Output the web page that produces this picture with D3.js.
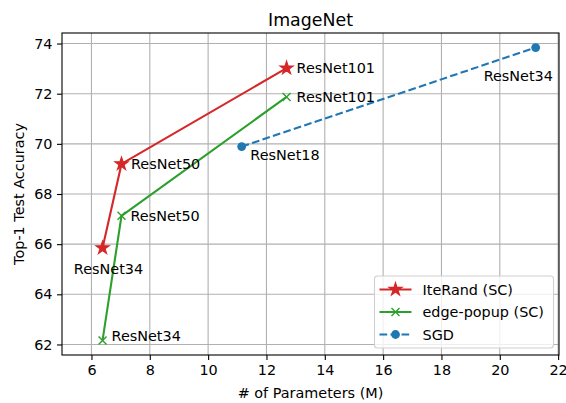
<!DOCTYPE html>
<html>
<head>
<meta charset="utf-8">
<script src="https://cdn.jsdelivr.net/npm/d3@7"></script>
<style>
  body { margin: 0; background: #fff; }
  svg { font-family: "DejaVu Sans", sans-serif; }
</style>
</head>
<body>
<div id="chart"></div>
<script>
// data
const xTicks = [6, 8, 10, 12, 14, 16, 18, 20, 22];
const yTicks = [62, 64, 66, 68, 70, 72, 74];

const iterandParams = [6.38, 7.03, 12.69];
const iterandAcc = [65.85, 69.2, 73.02];
const iterandNames = ["ResNet34", "ResNet50", "ResNet101"];

const popupParams = [6.38, 7.03, 12.69];
const popupAcc = [62.16, 67.13, 71.87];
const popupNames = ["ResNet34", "ResNet50", "ResNet101"];

const sgdParams = [11.15, 21.23];
const sgdAcc = [69.89, 73.84];
const sgdNames = ["ResNet18", "ResNet34"];

const seriesNames = ["IteRand (SC)", "edge-popup (SC)", "SGD"];

const W = 566, H = 403;
const margin = { left: 62, right: 7, top: 33, bottom: 48 };
const FS = 14.4;

const svg = d3.select("#chart").append("svg")
  .attr("width", W).attr("height", H);

const x = d3.scaleLinear().domain([4.99, 22.03]).range([margin.left, W - margin.right]);
const y = d3.scaleLinear().domain([61.58, 74.42]).range([H - margin.bottom, margin.top]);

// grid
svg.append("g").selectAll("line").data(xTicks).join("line")
  .attr("x1", d => x(d)).attr("x2", d => x(d))
  .attr("y1", y.range()[0]).attr("y2", y.range()[1])
  .attr("stroke", "#b0b0b0").attr("stroke-width", 1.1);
svg.append("g").selectAll("line").data(yTicks).join("line")
  .attr("y1", d => y(d)).attr("y2", d => y(d))
  .attr("x1", x.range()[0]).attr("x2", x.range()[1])
  .attr("stroke", "#b0b0b0").attr("stroke-width", 1.1);

// axes
const xAxis = svg.append("g")
  .attr("transform", `translate(0,${H - margin.bottom})`)
  .call(d3.axisBottom(x).tickValues(xTicks).tickSize(5).tickPadding(4.5));
const yAxis = svg.append("g")
  .attr("transform", `translate(${margin.left},0)`)
  .call(d3.axisLeft(y).tickValues(yTicks).tickSize(5).tickPadding(4.5));
[xAxis, yAxis].forEach(a => {
  a.select(".domain").remove();
  a.selectAll("text").attr("font-size", FS).attr("fill", "#000")
    .attr("font-family", "DejaVu Sans");
  a.selectAll("line").attr("stroke", "#000").attr("stroke-width", 1.1);
});

svg.append("rect")
  .attr("x", margin.left).attr("y", margin.top)
  .attr("width", W - margin.right - margin.left)
  .attr("height", H - margin.bottom - margin.top)
  .attr("fill", "none").attr("stroke", "#000").attr("stroke-width", 1.1);

// titles
svg.append("text").attr("x", (x.range()[0] + x.range()[1]) / 2).attr("y", 25.5)
  .attr("text-anchor", "middle").attr("font-size", 17.4).text("ImageNet");
svg.append("text").attr("x", (x.range()[0] + x.range()[1]) / 2).attr("y", 398)
  .attr("text-anchor", "middle").attr("font-size", FS).text("# of Parameters (M)");
svg.append("text")
  .attr("transform", `translate(24,${(y.range()[0] + y.range()[1]) / 2}) rotate(-90)`)
  .attr("text-anchor", "middle").attr("font-size", FS).text("Top-1 Test Accuracy");

const red = "#d62728", green = "#2ca02c", blue = "#1f77b4";
const line = d3.line().x(d => x(d[0])).y(d => y(d[1]));
const DASH = "7.7,3.3";

const star = d3.symbol().type(d3.symbolStar).size(52);
const crossPath = (cx, cy, r) => `M${cx - r},${cy - r}L${cx + r},${cy + r}M${cx - r},${cy + r}L${cx + r},${cy - r}`;

function drawMarker(g, kind, cx, cy, color) {
  if (kind === "star") {
    g.append("path").attr("d", star()).attr("transform", `translate(${cx},${cy})`)
      .attr("fill", color).attr("stroke", color).attr("stroke-width", 1.2);
  } else if (kind === "x") {
    g.append("path").attr("d", crossPath(cx, cy, 4))
      .attr("stroke", color).attr("stroke-width", 1.4).attr("fill", "none");
  } else {
    g.append("circle").attr("cx", cx).attr("cy", cy).attr("r", 4.4).attr("fill", color);
  }
}

const series = [
  { xs: sgdParams, ys: sgdAcc, names: sgdNames, color: blue, kind: "o", dash: DASH,
    offs: [[8.7, 8], [-52, 28]] },
  { xs: popupParams, ys: popupAcc, names: popupNames, color: green, kind: "x", dash: null,
    offs: [[9, -4.5], [9, 0], [10, 0]] },
  { xs: iterandParams, ys: iterandAcc, names: iterandNames, color: red, kind: "star", dash: null,
    offs: [[-28.7, 20.5], [9.5, 0], [10, 0]] }
];

series.forEach(s => {
  const pts = s.xs.map((v, i) => [v, s.ys[i]]);
  const g = svg.append("g");
  g.append("path").datum(pts).attr("d", line)
    .attr("fill", "none").attr("stroke", s.color).attr("stroke-width", 2.1)
    .attr("stroke-dasharray", s.dash);
  pts.forEach(p => drawMarker(g, s.kind, x(p[0]), y(p[1]), s.color));
  pts.forEach((p, i) => {
    g.append("text").attr("x", x(p[0]) + s.offs[i][0]).attr("y", y(p[1]) + s.offs[i][1])
      .attr("dy", "0.36em").attr("font-size", FS).text(s.names[i]);
  });
});

// legend
const lg = svg.append("g").attr("transform", "translate(374.5,276)");
lg.append("rect").attr("width", 179).attr("height", 72).attr("rx", 3)
  .attr("fill", "#fff").attr("fill-opacity", 0.8)
  .attr("stroke", "#d0d0d0").attr("stroke-width", 1.1);
const legendItems = [
  { color: red, kind: "star", dash: null },
  { color: green, kind: "x", dash: null },
  { color: blue, kind: "o", dash: DASH }
];
legendItems.forEach((it, i) => {
  const cy = 13.5 + i * 22.5;
  lg.append("line").attr("x1", 5).attr("x2", 37).attr("y1", cy).attr("y2", cy)
    .attr("stroke", it.color).attr("stroke-width", 2.1).attr("stroke-dasharray", it.dash);
  drawMarker(lg, it.kind, 21, cy, it.color);
  lg.append("text").attr("x", 48).attr("y", cy).attr("dy", "0.36em")
    .attr("font-size", FS).text(seriesNames[i]);
});
</script>
</body>
</html>
